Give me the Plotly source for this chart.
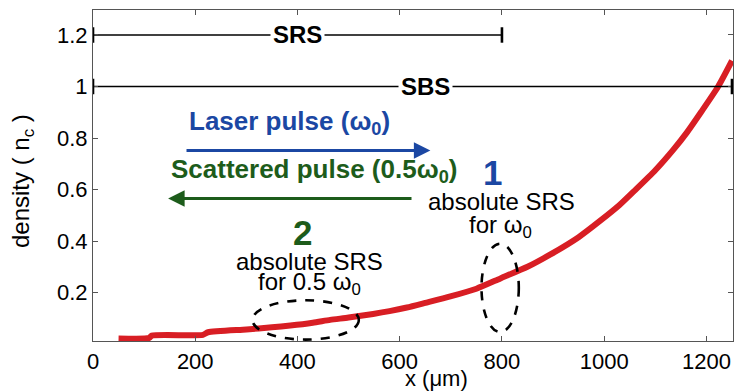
import plotly.graph_objects as go

# Density profile along the propagation axis
x_um = [50, 110, 115, 215, 225, 300, 350, 386, 430, 464, 500, 548, 580, 614, 650,
        699, 750, 797, 850, 894, 950, 993, 1030, 1058, 1100, 1135, 1162, 1190,
        1223, 1250]
density = [0.022, 0.024, 0.033, 0.036, 0.046, 0.057, 0.065, 0.072, 0.083, 0.094,
           0.103, 0.117, 0.128, 0.142, 0.16, 0.185, 0.215, 0.255, 0.30, 0.347,
           0.415, 0.48, 0.54, 0.593, 0.675, 0.754, 0.822, 0.902, 1.0, 1.10]

# Extents of the instability regions (x range, level)
srs_span = [0, 800]
srs_level = 1.2
sbs_span = [0, 1250]
sbs_level = 1.0

x_ticks = [0, 200, 400, 600, 800, 1000, 1200]
y_ticks = [0.2, 0.4, 0.6, 0.8, 1.0, 1.2]
y_tick_text = ["0.2", "0.4", "0.6", "0.8", "1", "1.2"]

FONT = "Liberation Sans, Arial, Helvetica, sans-serif"
RED = "#d81e24"
BLUE = "#1b47a3"
GREEN = "#1d5c1b"

W, H = 735, 392
ML, MR, MT, MB = 93, 2, 10, 51
pw, ph = W - ML - MR, H - MT - MB

fig = go.Figure()

fig.add_trace(go.Scatter(x=x_um, y=density, mode="lines",
                         line=dict(color=RED, width=6, shape="spline", smoothing=0.6),
                         hoverinfo="skip", showlegend=False))

shapes = []
annotations = []
for span, level, name, label_x in [(srs_span, srs_level, "SRS", 400),
                                   (sbs_span, sbs_level, "SBS", 650)]:
    fig.add_trace(go.Scatter(x=span, y=[level, level], mode="lines",
                             line=dict(color="black", width=1.6),
                             hoverinfo="skip", showlegend=False))
    for xe in span:
        shapes.append(dict(type="line", xref="x", yref="y", x0=xe, x1=xe,
                           y0=level - 0.03, y1=level + 0.03,
                           line=dict(color="black", width=2.6)))
    annotations.append(dict(x=label_x, y=level, xref="x", yref="y",
                            text="<b>%s</b>" % name, showarrow=False,
                            bgcolor="white", borderpad=2,
                            font=dict(family=FONT, size=24, color="black")))

# Dashed ellipses marking absolute SRS regions
shapes.append(dict(type="circle", xref="x", yref="y", x0=760, x1=833, y0=0.047, y1=0.39,
                   line=dict(color="black", width=2.6, dash="dash")))
shapes.append(dict(type="circle", xref="x", yref="y", x0=312, x1=520, y0=0.0175, y1=0.17,
                   line=dict(color="black", width=2.6, dash="dash")))

# Pulse arrows
annotations.append(dict(x=660, y=0.752, ax=180, ay=0.752, xref="x", yref="y",
                        axref="x", ayref="y", text="", showarrow=True,
                        arrowhead=2, arrowsize=1.1, arrowwidth=3, arrowcolor=BLUE))
annotations.append(dict(x=147, y=0.565, ax=626, ay=0.565, xref="x", yref="y",
                        axref="x", ayref="y", text="", showarrow=True,
                        arrowhead=2, arrowsize=1.1, arrowwidth=3, arrowcolor=GREEN))

annotations.append(dict(x=384, y=0.862, xref="x", yref="y", showarrow=False,
                        text="<b>Laser pulse (ω<sub>0</sub>)</b>",
                        font=dict(family=FONT, size=26, color=BLUE)))
annotations.append(dict(x=433, y=0.672, xref="x", yref="y", showarrow=False,
                        text="<b>Scattered pulse (0.5ω<sub>0</sub>)</b>",
                        font=dict(family=FONT, size=26, color=GREEN)))

annotations.append(dict(x=781, y=0.668, xref="x", yref="y", showarrow=False,
                        text="<b>1</b>", font=dict(family=FONT, size=35, color=BLUE)))
annotations.append(dict(x=409, y=0.435, xref="x", yref="y", showarrow=False,
                        text="<b>2</b>", font=dict(family=FONT, size=35, color=GREEN)))

annotations.append(dict(x=799, y=0.552, xref="x", yref="y", showarrow=False,
                        text="absolute SRS", font=dict(family=FONT, size=24, color="black")))
annotations.append(dict(x=797, y=0.455, xref="x", yref="y", showarrow=False,
                        text="for ω<sub>0</sub>", font=dict(family=FONT, size=24, color="black")))
annotations.append(dict(x=423, y=0.319, xref="x", yref="y", showarrow=False,
                        text="absolute SRS", font=dict(family=FONT, size=24, color="black")))
annotations.append(dict(x=423, y=0.235, xref="x", yref="y", showarrow=False,
                        text="for 0.5 ω<sub>0</sub>", font=dict(family=FONT, size=24, color="black")))

# Axis titles, placed in pixels and converted to paper coordinates
for px, py, txt, ang in [(22, 181, "density ( n<sub>c</sub> )", -90),
                         (436, 378, "x (μm)", 0)]:
    annotations.append(dict(x=(px - ML) / pw, y=(H - MB - py) / ph,
                            xref="paper", yref="paper", showarrow=False,
                            xanchor="center", yanchor="middle",
                            text=txt, textangle=ang,
                            font=dict(family=FONT, size=(24 if ang else 22), color="black")))

fig.update_layout(
    width=W, height=H,
    margin=dict(l=ML, r=MR, t=MT, b=MB),
    paper_bgcolor="white", plot_bgcolor="white",
    font=dict(family=FONT, size=22, color="black"),
    shapes=shapes, annotations=annotations,
    xaxis=dict(range=[0, 1252], tickvals=x_ticks, ticks="inside", ticklen=5,
               tickcolor="#555", showline=True, linecolor="#555", linewidth=1.2,
               mirror="ticks", showgrid=False, zeroline=False,
               tickfont=dict(family=FONT, size=22, color="black")),
    yaxis=dict(range=[0.012, 1.297], tickvals=y_ticks, ticktext=y_tick_text,
               ticks="inside", ticklen=5, tickcolor="#555", showline=True,
               linecolor="#555", linewidth=1.2, mirror="ticks", showgrid=False,
               zeroline=False, tickfont=dict(family=FONT, size=22, color="black")),
)

fig.write_html("out.html")
